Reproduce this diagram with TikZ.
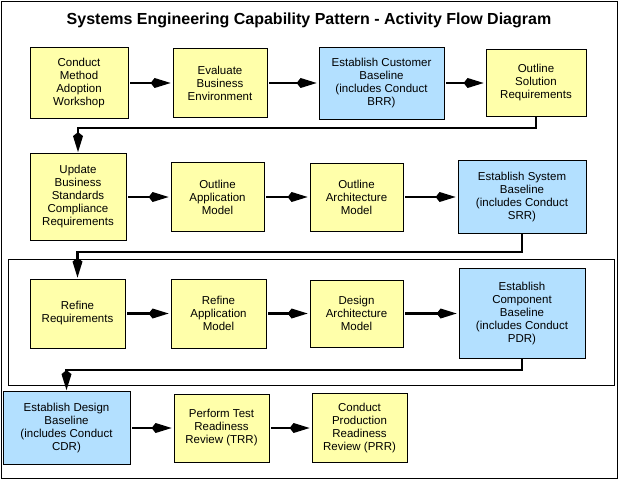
\documentclass[tikz,border=0pt]{standalone}
\usepackage{fontspec}
\setmainfont{Liberation Sans}
\usetikzlibrary{positioning, arrows.meta}
\definecolor{actyellow}{RGB}{255,255,170}
\definecolor{actblue}{RGB}{179,224,255}

\begin{document}
\begin{tikzpicture}[x=1pt, y=-1pt,
    act/.style={draw, line width=0.8pt, fill=actyellow, align=center, inner sep=0pt,
        font=\fontsize{11.5}{13}\selectfont},
    base/.style={act, fill=actblue},
    flow/.style={line width=2.6pt, -{Kite[length=20pt,width=10pt,inset=4pt]},
        shorten >=2pt, shorten <=2pt},
    elbow/.style={line width=2.6pt, line join=miter,
        -{Kite[length=20pt,width=10pt,inset=4pt]}, shorten >=1pt}]
\useasboundingbox (0,0) rectangle (620,484);
\draw[line width=0.8pt] (1,1) rectangle (617,478);
\draw[line width=0.8pt] (8,259) rectangle (614,385);

\node[font=\bfseries\fontsize{16}{16}\selectfont] (title) at (309,20)
    {Systems Engineering Capability Pattern - Activity Flow Diagram};

\node[act, minimum width=98pt, minimum height=71pt] (a1) at (79,83)
    {Conduct\\Method\\Adoption\\Workshop};
\node[act, minimum width=94pt, minimum height=69pt] (a2) at (220,83)
    {Evaluate\\Business\\Environment};
\node[base, minimum width=125pt, minimum height=72pt] (a3) at (381.5,83)
    {Establish Customer\\Baseline\\(includes Conduct\\BRR)};
\node[act, minimum width=100pt, minimum height=67pt] (a4) at (536,83)
    {Outline\\Solution\\Requirements};

\node[act, minimum width=96pt, minimum height=87pt] (b1) at (78,197)
    {Update\\Business\\Standards\\Compliance\\Requirements};
\node[act, minimum width=93pt, minimum height=69pt] (b2) at (217.5,197)
    {Outline\\Application\\Model};
\node[act, minimum width=93pt, minimum height=68pt] (b3) at (356.5,197)
    {Outline\\Architecture\\Model};
\node[base, minimum width=128pt, minimum height=73pt] (b4) at (522,197)
    {Establish System\\Baseline\\(includes Conduct\\SRR)};

\node[act, minimum width=95pt, minimum height=69pt] (c1) at (77.5,313.5)
    {Refine\\Requirements};
\node[act, minimum width=95pt, minimum height=69pt] (c2) at (218.5,313.5)
    {Refine\\Application\\Model};
\node[act, minimum width=93pt, minimum height=67pt] (c3) at (356.5,313.5)
    {Design\\Architecture\\Model};
\node[base, minimum width=126pt, minimum height=90pt] (c4) at (522,313.5)
    {Establish\\Component\\Baseline\\(includes Conduct\\PDR)};

\node[base, minimum width=127pt, minimum height=73pt] (d1) at (66.5,428)
    {Establish Design\\Baseline\\(includes Conduct\\CDR)};
\node[act, minimum width=95pt, minimum height=68pt] (d2) at (221.5,428)
    {Perform Test\\Readiness\\Review (TRR)};
\node[act, minimum width=95pt, minimum height=69pt] (d3) at (359.5,428)
    {Conduct\\Production\\Readiness\\Review (PRR)};

\coordinate (ba4) at (536,128);
\coordinate (bb1) at (78,128);
\coordinate (bb4) at (522,252);
\coordinate (bc1) at (77.5,252);
\coordinate (bc4) at (522,370);
\coordinate (bd1) at (66.5,370);

\draw[flow]
    (a1) edge (a2)
    (a2) edge (a3)
    (a3) edge (a4)
    (b1) edge (b2)
    (b2) edge (b3)
    (b3) edge (b4)
    (c1) edge (c2)
    (c2) edge (c3)
    (c3) edge (c4)
    (d1) edge (d2)
    (d2) edge (d3)
    ;
\draw[elbow] (a4) -- (ba4) -- (bb1) -- (b1);
\draw[elbow] (b4) -- (bb4) -- (bc1) -- (c1);
\draw[elbow] (c4) -- (bc4) -- (bd1) -- (d1);
\end{tikzpicture}
\end{document}
